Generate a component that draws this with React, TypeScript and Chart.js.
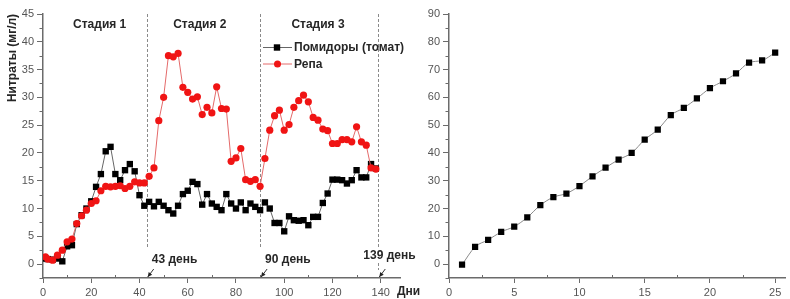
import React, { useEffect, useRef } from "react";
import { Chart, registerables } from "chart.js";

Chart.register(...registerables);

// ---------- data: left chart ----------
const DAYS = [1, 2, 4, 6, 8, 10, 12, 14, 16, 18, 20, 22, 24, 26, 28, 30, 32, 34, 36, 38, 40, 42, 44, 46, 48, 50, 52, 54, 56, 58, 60, 62, 64, 66, 68, 70, 72, 74, 76, 78, 80, 82, 84, 86, 88, 90, 92, 94, 96, 98, 100, 102, 104, 106, 108, 110, 112, 114, 116, 118, 120, 122, 124, 126, 128, 130, 132, 134, 136, 138];
const TOMATO = [1.0, 0.9, 0.8, 1.0, 0.5, 3.2, 3.4, 7.2, 8.8, 10.0, 11.3, 13.9, 16.2, 20.3, 21.1, 16.2, 15.1, 16.9, 18.0, 16.7, 12.4, 10.5, 11.2, 10.4, 11.2, 10.5, 9.7, 9.1, 10.5, 12.6, 13.2, 14.8, 14.4, 10.7, 12.6, 10.9, 10.3, 9.7, 12.6, 10.9, 10.0, 11.1, 9.7, 10.9, 10.3, 9.7, 11.1, 10.0, 7.4, 7.4, 5.9, 8.6, 7.9, 7.8, 7.9, 7.0, 8.5, 8.5, 11.0, 12.7, 15.2, 15.2, 15.1, 14.5, 15.1, 16.9, 15.6, 15.6, 18.0, 17.2];
const REPA = [1.3, 0.9, 0.7, 1.6, 2.5, 4.0, 4.5, 7.3, 8.7, 9.7, 10.9, 11.4, 13.2, 14.0, 13.9, 14.0, 14.1, 13.6, 14.0, 14.8, 14.6, 14.6, 15.8, 17.3, 25.8, 30.0, 37.5, 37.3, 37.9, 31.8, 30.9, 29.7, 30.1, 26.9, 28.2, 27.2, 31.9, 28.0, 27.9, 18.5, 19.1, 20.8, 15.2, 14.9, 15.2, 14.0, 19.0, 24.1, 26.7, 27.7, 24.1, 25.1, 28.2, 29.4, 30.4, 29.2, 26.4, 25.9, 24.3, 24.0, 21.7, 21.7, 22.4, 22.4, 22.0, 24.7, 22.0, 21.4, 17.3, 17.1];
const SERIES_NAMES = ["Помидоры (томат)", "Репа"];
const STAGE_LABELS = ["Стадия 1", "Стадия 2", "Стадия 3"];
const STAGE_BOUNDARIES = [43, 90, 139];
const BOUNDARY_LABELS = ["43 день", "90 день", "139 день"];
const LEFT_X_TICKS = [0, 20, 40, 60, 80, 100, 120, 140];
const LEFT_Y_TICKS = [0, 5, 10, 15, 20, 25, 30, 35, 40, 45];
const LEFT_Y_TITLE = "Нитраты (мг/л)";
const LEFT_X_TITLE = "Дни";

// ---------- data: right chart ----------
const RIGHT_X = [1, 2, 3, 4, 5, 6, 7, 8, 9, 10, 11, 12, 13, 14, 15, 16, 17, 18, 19, 20, 21, 22, 23, 24, 25];
const RIGHT_Y = [-0.2, 6.2, 8.7, 11.6, 13.5, 16.8, 21.2, 24.1, 25.4, 28.1, 31.6, 34.7, 37.6, 40.0, 44.8, 48.4, 53.6, 56.2, 59.6, 63.3, 65.8, 68.6, 72.5, 73.3, 76.1];
const RIGHT_X_TICKS = [0, 5, 10, 15, 20, 25];
const RIGHT_Y_TICKS = [0, 10, 20, 30, 40, 50, 60, 70, 80, 90];

const FONT = '"Liberation Sans", Arial, Helvetica, sans-serif';
const AXIS = "#6b6b6b";
const TICK_TEXT = "#555";
const DARK_TEXT = "#262626";

function midpoints(ticks: number[], extraLow?: number) {
  const out: number[] = [];
  for (let i = 0; i < ticks.length - 1; i++) out.push((ticks[i] + ticks[i + 1]) / 2);
  if (extraLow !== undefined) out.unshift(extraLow);
  return out;
}

function drawMinorTicks(chart: any, xMinor: number[], yMinor: number[]) {
  const { ctx, chartArea: a, scales } = chart;
  const xs = scales.x;
  const ys = scales.y;
  ctx.save();
  ctx.strokeStyle = AXIS;
  ctx.lineWidth = 1;
  ctx.beginPath();
  xMinor.forEach((v) => {
    const px = Math.round(xs.getPixelForValue(v)) + 0.5;
    ctx.moveTo(px, a.bottom);
    ctx.lineTo(px, a.bottom - 3);
  });
  yMinor.forEach((v) => {
    const py = Math.round(ys.getPixelForValue(v)) + 0.5;
    ctx.moveTo(a.left, py);
    ctx.lineTo(a.left - 3.5, py);
  });
  ctx.stroke();
  ctx.restore();
}

function axisScale(min: number, max: number, ticks: number[], isX: boolean, size: number, tickLength: number) {
  return {
    type: "linear" as const,
    min,
    max,
    afterBuildTicks: (s: any) => {
      s.ticks = ticks.map((v) => ({ value: v }));
    },
    afterFit: (s: any) => {
      if (isX) s.height = size;
      else s.width = size;
    },
    grid: {
      drawOnChartArea: false,
      drawTicks: true,
      tickLength,
      color: AXIS,
      lineWidth: 1,
    },
    border: { display: true, color: AXIS, width: 1.5 },
    ticks: {
      font: { family: FONT, size: 11 },
      color: TICK_TEXT,
      padding: 3,
      maxRotation: 0,
      autoSkip: false,
    },
  };
}

function LeftChart() {
  const ref = useRef<HTMLCanvasElement | null>(null);
  useEffect(() => {
    if (!ref.current) return;
    const overlay = {
      id: "leftOverlay",
      beforeDatasetsDraw(chart: any) {
        const { ctx, chartArea: a, scales } = chart;
        const xs = scales.x;
        ctx.save();
        ctx.strokeStyle = "#8a8a8a";
        ctx.lineWidth = 1;
        ctx.setLineDash([3, 2]);
        STAGE_BOUNDARIES.forEach((b) => {
          const px = Math.round(xs.getPixelForValue(b)) + 0.5;
          ctx.beginPath();
          ctx.moveTo(px, a.top);
          ctx.lineTo(px, a.bottom - 30);
          ctx.stroke();
        });
        // short segment below last label
        const pl = Math.round(xs.getPixelForValue(STAGE_BOUNDARIES[2])) + 0.5;
        ctx.beginPath();
        ctx.moveTo(pl, a.bottom - 15);
        ctx.lineTo(pl, a.bottom - 8);
        ctx.stroke();
        ctx.restore();
      },
      afterDraw(chart: any) {
        const { ctx, chartArea: a, scales } = chart;
        const xs = scales.x;
        drawMinorTicks(chart, midpoints(LEFT_X_TICKS), midpoints(LEFT_Y_TICKS, -2.5));

        ctx.save();
        // stage labels
        ctx.font = `bold 12px ${FONT}`;
        ctx.fillStyle = DARK_TEXT;
        ctx.textAlign = "center";
        ctx.textBaseline = "middle";
        const stageCenters = [23.5, 65, 114];
        STAGE_LABELS.forEach((t, i) => {
          ctx.fillText(t, xs.getPixelForValue(stageCenters[i]), a.top + 11);
        });

        // boundary annotations with arrows
        ctx.textAlign = "left";
        BOUNDARY_LABELS.forEach((t, i) => {
          const px = xs.getPixelForValue(STAGE_BOUNDARIES[i]);
          const last = i === 2;
          const tx = last ? px - 15 : px + 5;
          const ty = last ? a.bottom - 22 : a.bottom - 18;
          ctx.fillStyle = DARK_TEXT;
          ctx.fillText(t, tx, ty);
          // arrow
          const x0 = px + 7, y0 = a.bottom - 9;
          const x1 = px + 1, y1 = a.bottom - 1;
          ctx.strokeStyle = "#333";
          ctx.lineWidth = 1;
          ctx.beginPath();
          ctx.moveTo(x0, y0);
          ctx.lineTo(x1, y1);
          ctx.stroke();
          const ang = Math.atan2(y1 - y0, x1 - x0);
          ctx.fillStyle = "#222";
          ctx.beginPath();
          ctx.moveTo(x1, y1);
          ctx.lineTo(x1 - 5 * Math.cos(ang - 0.45), y1 - 5 * Math.sin(ang - 0.45));
          ctx.lineTo(x1 - 5 * Math.cos(ang + 0.45), y1 - 5 * Math.sin(ang + 0.45));
          ctx.closePath();
          ctx.fill();
        });

        // legend
        const lx = 263;
        const rows = [
          { y: 47, name: SERIES_NAMES[0], line: "#666", fill: "#000", rect: true },
          { y: 63.5, name: SERIES_NAMES[1], line: "#e46a6a", fill: "#f01414", rect: false },
        ];
        rows.forEach((r) => {
          ctx.strokeStyle = r.line;
          ctx.lineWidth = 1;
          ctx.beginPath();
          ctx.moveTo(lx, r.y + 0.5);
          ctx.lineTo(lx + 29, r.y + 0.5);
          ctx.stroke();
          ctx.fillStyle = r.fill;
          if (r.rect) {
            ctx.fillRect(lx + 14 - 3.2, r.y - 2.7, 6.4, 6.4);
          } else {
            ctx.beginPath();
            ctx.arc(lx + 14.5, r.y + 0.5, 3.5, 0, Math.PI * 2);
            ctx.fill();
          }
          ctx.fillStyle = DARK_TEXT;
          ctx.font = `bold 12px ${FONT}`;
          ctx.textAlign = "left";
          ctx.textBaseline = "middle";
          ctx.fillText(r.name, lx + 31, r.y + 1);
        });

        // axis titles
        ctx.font = `bold 12px ${FONT}`;
        ctx.fillStyle = DARK_TEXT;
        ctx.textAlign = "left";
        ctx.textBaseline = "middle";
        ctx.fillText(LEFT_X_TITLE, a.right - 3, a.bottom + 14);
        ctx.translate(13, 58);
        ctx.rotate(-Math.PI / 2);
        ctx.textAlign = "center";
        ctx.fillText(LEFT_Y_TITLE, 0, 0);
        ctx.restore();
      },
    };

    const chart = new Chart(ref.current, {
      type: "line",
      data: {
        datasets: [
          {
            label: SERIES_NAMES[1],
            data: DAYS.map((d, i) => ({ x: d, y: REPA[i] })),
            borderColor: "#e46a6a",
            borderWidth: 1,
            pointStyle: "circle",
            pointRadius: 3.6,
            pointBackgroundColor: "#f01414",
            pointBorderWidth: 0,
            tension: 0,
          },
          {
            label: SERIES_NAMES[0],
            data: DAYS.map((d, i) => ({ x: d, y: TOMATO[i] })),
            borderColor: "#666",
            borderWidth: 1,
            pointStyle: "rect",
            pointRadius: 4.5,
            pointBackgroundColor: "#000",
            pointBorderWidth: 0,
            tension: 0,
          },
        ],
      },
      options: {
        animation: false,
        responsive: false,
        events: [],
        layout: { padding: { top: 14, right: 30, left: 0, bottom: 0 } },
        plugins: { legend: { display: false }, tooltip: { enabled: false } },
        scales: {
          x: axisScale(0, 148, LEFT_X_TICKS, true, 21, 5) as any,
          y: axisScale(-2.5, 45, LEFT_Y_TICKS, false, 43, 6) as any,
        },
      },
      plugins: [overlay],
    });
    return () => chart.destroy();
  }, []);
  return <canvas ref={ref} width={430} height={299} style={{ position: "absolute", left: 0, top: 0 }} />;
}

function RightChart() {
  const ref = useRef<HTMLCanvasElement | null>(null);
  useEffect(() => {
    if (!ref.current) return;
    const overlay = {
      id: "rightOverlay",
      afterDraw(chart: any) {
        drawMinorTicks(chart, midpoints(RIGHT_X_TICKS), midpoints(RIGHT_Y_TICKS, -5));
      },
    };
    const chart = new Chart(ref.current, {
      type: "line",
      data: {
        datasets: [
          {
            label: "",
            data: RIGHT_X.map((d, i) => ({ x: d, y: RIGHT_Y[i] })),
            borderColor: "#8a8a8a",
            borderWidth: 1,
            cubicInterpolationMode: "monotone",
            pointStyle: "rect",
            pointRadius: 4.4,
            pointBackgroundColor: "#000",
            pointBorderWidth: 0,
          },
        ],
      },
      options: {
        animation: false,
        responsive: false,
        events: [],
        layout: { padding: { top: 14, right: 3, left: 0, bottom: 0 } },
        plugins: { legend: { display: false }, tooltip: { enabled: false } },
        scales: {
          x: axisScale(0, 25.8, RIGHT_X_TICKS, true, 21, 5) as any,
          y: axisScale(-5, 90, RIGHT_Y_TICKS, false, 29, 6) as any,
        },
      },
      plugins: [overlay],
    });
    return () => chart.destroy();
  }, []);
  return <canvas ref={ref} width={370} height={299} style={{ position: "absolute", left: 420, top: 0 }} />;
}

export default function App() {
  return (
    <div style={{ position: "fixed", left: 0, top: 0, width: 790, height: 299, background: "#fff", overflow: "hidden" }}>
      <LeftChart />
      <RightChart />
    </div>
  );
}
